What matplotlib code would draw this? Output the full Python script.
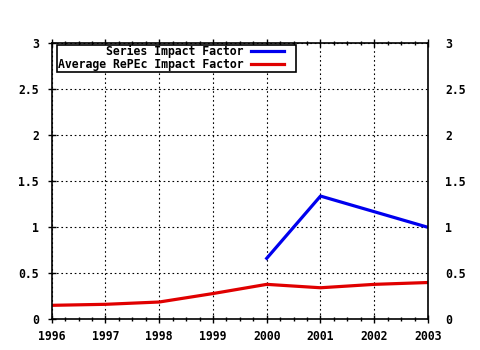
import matplotlib
matplotlib.use("Agg")
import matplotlib.pyplot as plt
from matplotlib.ticker import MultipleLocator, FuncFormatter

years = [1996, 1997, 1998, 1999, 2000, 2001, 2002, 2003]
avg_repec_if = [0.152, 0.163, 0.188, 0.28, 0.38, 0.343, 0.38, 0.40]
series_years = [2000, 2001, 2002, 2003]
series_if = [0.663, 1.34, 1.17, 1.0]
y_ticks = [0, 0.5, 1, 1.5, 2, 2.5, 3]

FAMILY = "DejaVu Sans Mono"
SIZE = 8.3

fig = plt.figure(figsize=(4.8, 3.5), dpi=100)
ax = fig.add_axes([0.1077, 0.0877, 0.7840, 0.7883])

ax.plot(series_years, series_if, color="#0000ee", lw=2.3, label="Series Impact Factor")
ax.plot(years, avg_repec_if, color="#e00000", lw=2.3, label="Average RePEc Impact Factor")

ax.set_xlim(1996, 2003)
ax.set_ylim(0, 3)
ax.set_xticks(years)
ax.xaxis.set_minor_locator(MultipleLocator(0.25))
ax.set_yticks(y_ticks)

yfmt = FuncFormatter(lambda v, p: "%g" % v)
ax.yaxis.set_major_formatter(yfmt)
ax.xaxis.set_major_formatter(FuncFormatter(lambda v, p: "%d" % v))

ax.grid(True, which="major", color="black", linestyle=(0, (1.5, 2.5)), linewidth=0.8)

ax.tick_params(axis="both", which="major", direction="inout", length=6, width=1,
               top=True, right=True, labelright=False)
ax.tick_params(axis="x", which="major", pad=5)
ax.tick_params(axis="y", which="major", pad=6.3)
ax.tick_params(axis="x", which="minor", direction="inout", length=3, width=1,
               top=True, bottom=True)
for lab in ax.get_xticklabels() + ax.get_yticklabels():
    lab.set_fontfamily(FAMILY)
    lab.set_fontweight("bold")
    lab.set_fontsize(SIZE)
for s in ax.spines.values():
    s.set_linewidth(1.2)

# mirrored value labels on the right
ax2 = ax.twinx()
ax2.set_ylim(0, 3)
ax2.set_yticks(y_ticks)
ax2.yaxis.set_major_formatter(yfmt)
ax2.tick_params(axis="y", length=0, pad=12.5)
for lab in ax2.get_yticklabels():
    lab.set_fontfamily(FAMILY)
    lab.set_fontweight("bold")
    lab.set_fontsize(SIZE)
for s in ax2.spines.values():
    s.set_visible(False)

handles, labels = ax.get_legend_handles_labels()
leg = ax2.legend(handles, labels, loc="upper left",
                 bbox_to_anchor=(0.0149, 0.995, 0.635, 0.0), mode="expand",
                 markerfirst=False, frameon=True, fancybox=False,
                 edgecolor="black", framealpha=1,
                 prop={"family": FAMILY, "weight": "bold", "size": SIZE},
                 handlelength=2.9, borderpad=0.05, labelspacing=0.0,
                 handletextpad=0.65, borderaxespad=0.0)
leg.get_frame().set_linewidth(1.2)
for t in leg.get_texts():
    t.set_ha("right")
leg._legend_box.align = "right"

fig.savefig("out.png", dpi=100)
